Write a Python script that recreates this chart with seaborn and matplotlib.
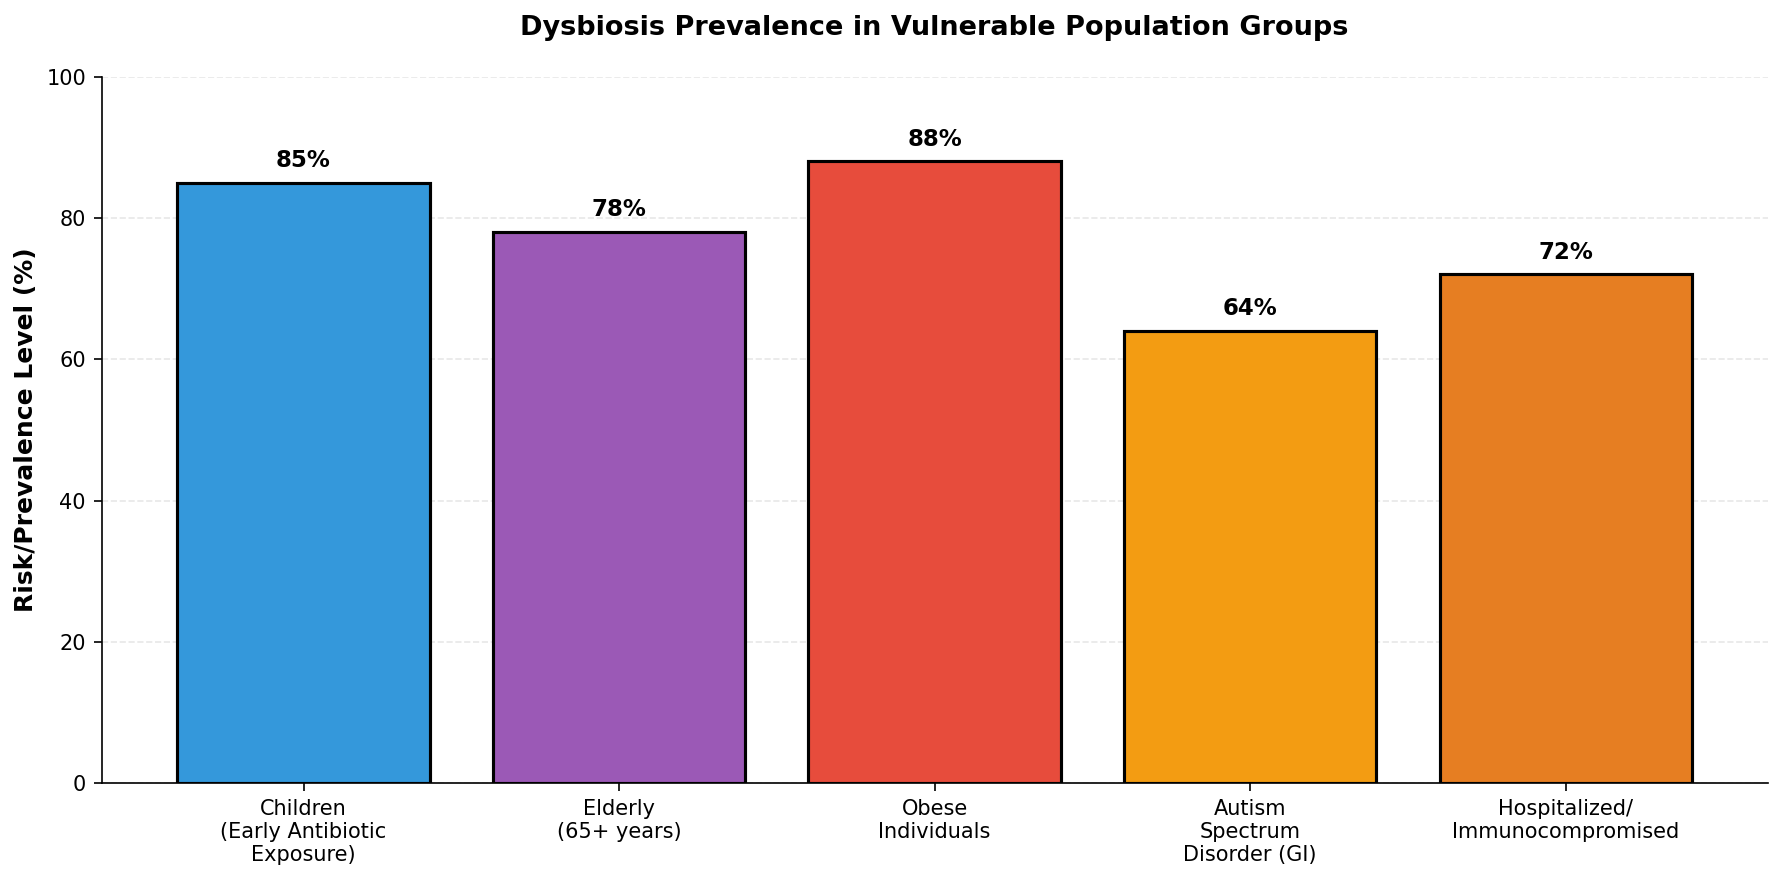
import numpy as np
import pandas as pd
import matplotlib
matplotlib.use("Agg")
import matplotlib.pyplot as plt
import seaborn as sns

groups = ["Children\n(Early Antibiotic\nExposure)", "Elderly\n(65+ years)", "Obese\nIndividuals",
          "Autism\nSpectrum\nDisorder (GI)", "Hospitalized/\nImmunocompromised"]
prevalence = [85, 78, 88, 64, 72]
colors = ["#3498db", "#9b59b6", "#e74c3c", "#f39c12", "#e67e22"]

df = pd.DataFrame({"group": groups, "prevalence": prevalence})

sns.set_style("white")
plt.rcParams["font.family"] = ["DejaVu Sans"]
plt.rcParams.update({"text.color": "black", "axes.labelcolor": "black",
                     "xtick.color": "black", "ytick.color": "black",
                     "axes.edgecolor": "black"})

fig, ax = plt.subplots(figsize=(11.88, 5.867), dpi=150)
fig.subplots_adjust(left=0.057, right=0.992, top=0.913, bottom=0.110)
sns.barplot(data=df, x="group", y="prevalence", hue="group", palette=colors,
            edgecolor="black", linewidth=1.5, width=0.8, saturation=1, legend=False, ax=ax)
ax.margins(x=0.05)

for i, v in enumerate(prevalence):
    ax.text(i, v + 1.5, f"{v}%", ha="center", va="bottom", fontsize=11, fontweight="bold")

ax.set_ylim(0, 100)
ax.set_xlabel("")
ax.set_ylabel("Risk/Prevalence Level (%)", fontsize=12, fontweight="bold")
ax.set_title("Dysbiosis Prevalence in Vulnerable Population Groups", fontsize=13,
             fontweight="bold", pad=20)
ax.yaxis.grid(True, linestyle="--", alpha=0.3, color="#b0b0b0")
ax.set_axisbelow(True)
sns.despine(ax=ax)
ax.tick_params(axis="both", labelsize=10, length=4, left=True, bottom=True)

plt.savefig("out.png", dpi=150)
